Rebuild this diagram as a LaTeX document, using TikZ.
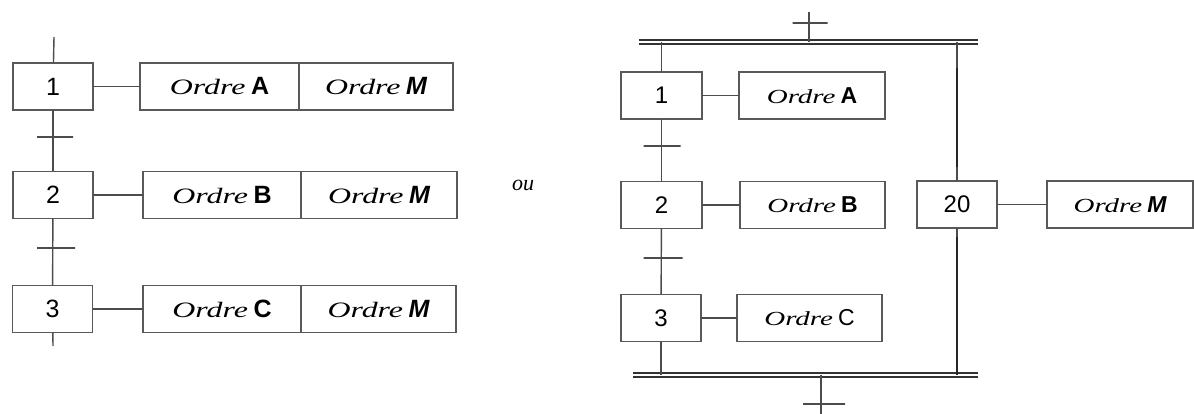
\documentclass[tikz,border=0pt]{standalone}
\usepackage{fontspec}
\setmainfont{Liberation Serif}
\setsansfont{Liberation Sans}
\newfontfamily\ordrefont{Liberation Serif Italic}[FakeStretch=1.45]
\usetikzlibrary{positioning}
\tikzset{
    stepbox/.style = {rectangle, draw=black!65, line width=1.6pt, minimum width=80pt, minimum height=47pt, inner sep=0pt, outer sep=0pt, font=\sffamily\fontsize{25}{27}\selectfont},
    actbox/.style = {rectangle, draw=black!65, line width=1.6pt, minimum height=47pt, inner sep=0pt, outer sep=0pt, font=\fontsize{22}{24}\selectfont},
    actboxr/.style = {actbox, font=\fontsize{20}{22}\selectfont},
    trans/.style = {rectangle, draw=black!70, line width=1.4pt, minimum height=0pt, inner sep=0pt, minimum width=#1},
    trans/.default = 36pt,
    link/.style = {draw=black!70, line width=1.4pt},
    linkb/.style = {draw=black!85, line width=2.8pt},
    bar/.style = {draw=black!80, double, double distance=2.2pt, line width=1.5pt},
}
% order text: italic word, then the output letter in sans
\newcommand{\ordre}[2][25]{{\ordrefont Ordre}\ {\sffamily\bfseries\fontsize{#1}{#1}\selectfont #2}}

\begin{document}
\begin{tikzpicture}[x=1pt,y=-1pt]
\useasboundingbox (0,0) rectangle (1194,414);
%
% sequence 1 -> 2 -> 3, M set at each step
\node[stepbox] at (53,86.5) (s1) {1};
\node[stepbox] at (53,195) (s2) {2};
\node[stepbox] at (52.5,309) (s3) {3};
\node[actbox, minimum width=159pt] at (219.5,86.5) (a1) {\ordre{A}};
\node[actbox, minimum width=154pt, right=0pt of a1] (m1) {\ordre{\itshape M}};
\node[actbox, minimum width=158pt] at (222,195) (a2) {\ordre{B}};
\node[actbox, minimum width=156pt, right=0pt of a2] (m2) {\ordre{\itshape M}};
\node[actbox, minimum width=158pt] at (222,309) (a3) {\ordre{C}};
\node[actbox, minimum width=155pt, right=0pt of a3] (m3) {\ordre{\itshape M}};
\coordinate (in1) at (54,37);
\coordinate (out1) at (53,346);
%
\draw[link] (in1) -- (s1);
\draw[link] (s1) -- (s2);
\draw[link] (s2) -- (s3);
\draw[link] (s3) -- (out1);
\draw[link] (s1) -- (a1);
\draw[link] (s2) -- (a2);
\draw[link] (s3) -- (a3);
\node[trans] at (55,137) (t1) {};
\node[trans=38pt] at (56,248) (t2) {};
%
\node[font=\itshape\fontsize{22}{24}\selectfont] at (523,185) (ou) {ou};
%
% parallel branches: 1 -> 2 -> 3 and 20
\coordinate (topL) at (639,42);
\coordinate (topR) at (978,42);
\coordinate (botL) at (633,375);
\coordinate (botR) at (978,375);
\coordinate (in2) at (809,12);
\coordinate (out2) at (821,414);
\node[stepbox, minimum width=81pt, font=\sffamily\fontsize{24}{26}\selectfont] at (661.5,95.5) (r1) {1};
\node[stepbox, minimum width=81pt, font=\sffamily\fontsize{24}{26}\selectfont] at (661.5,205) (r2) {2};
\node[stepbox, font=\sffamily\fontsize{24}{26}\selectfont] at (661,318) (r3) {3};
\node[stepbox, font=\sffamily\fontsize{24}{26}\selectfont] at (957,204.5) (r20) {20};
\node[actboxr, minimum width=146pt] at (812,95.5) (ra1) {\ordre[23]{A}};
\node[actboxr, minimum width=145pt] at (812.5,205) (ra2) {\ordre[23]{B}};
\node[actboxr, minimum width=145pt] at (809.5,318) (ra3) {\ordre[23]{\mdseries C}};
\node[actboxr, minimum width=146pt] at (1120,204.5) (rm) {\ordre[23]{\itshape M}};
%
\draw[bar] (topL) -- (topR);
\draw[bar] (botL) -- (botR);
\draw[link] (in2) -- (in2 |- topL);
\draw[link] (out2 |- botL) -- (out2);
\draw[link] (r1 |- topL) -- (r1);
\draw[link] (r1) -- (r2);
\draw[link] (r2) -- (r3);
\draw[link] (r3) -- (r3 |- botL);
\draw[link] (r20 |- topL) -- (r20);
\draw[link] (r20) -- (r20 |- botL);
\draw[linkb] ([yshift=14pt]r20.north) -- ([yshift=113pt]r20.north);
\draw[linkb] ([yshift=-9pt]r20.south) -- (r20 |- botL);
\draw[link] (r1) -- (ra1);
\draw[link] (r2) -- (ra2);
\draw[link] (r3) -- (ra3);
\draw[link] (r20) -- (rm);
\node[trans=35pt] at (810,23) (t3) {};
\node[trans=37pt] at (662,146) (t4) {};
\node[trans=39pt] at (663,258) (t5) {};
\node[trans=42pt] at (824,404) (t6) {};
\end{tikzpicture}
\end{document}
